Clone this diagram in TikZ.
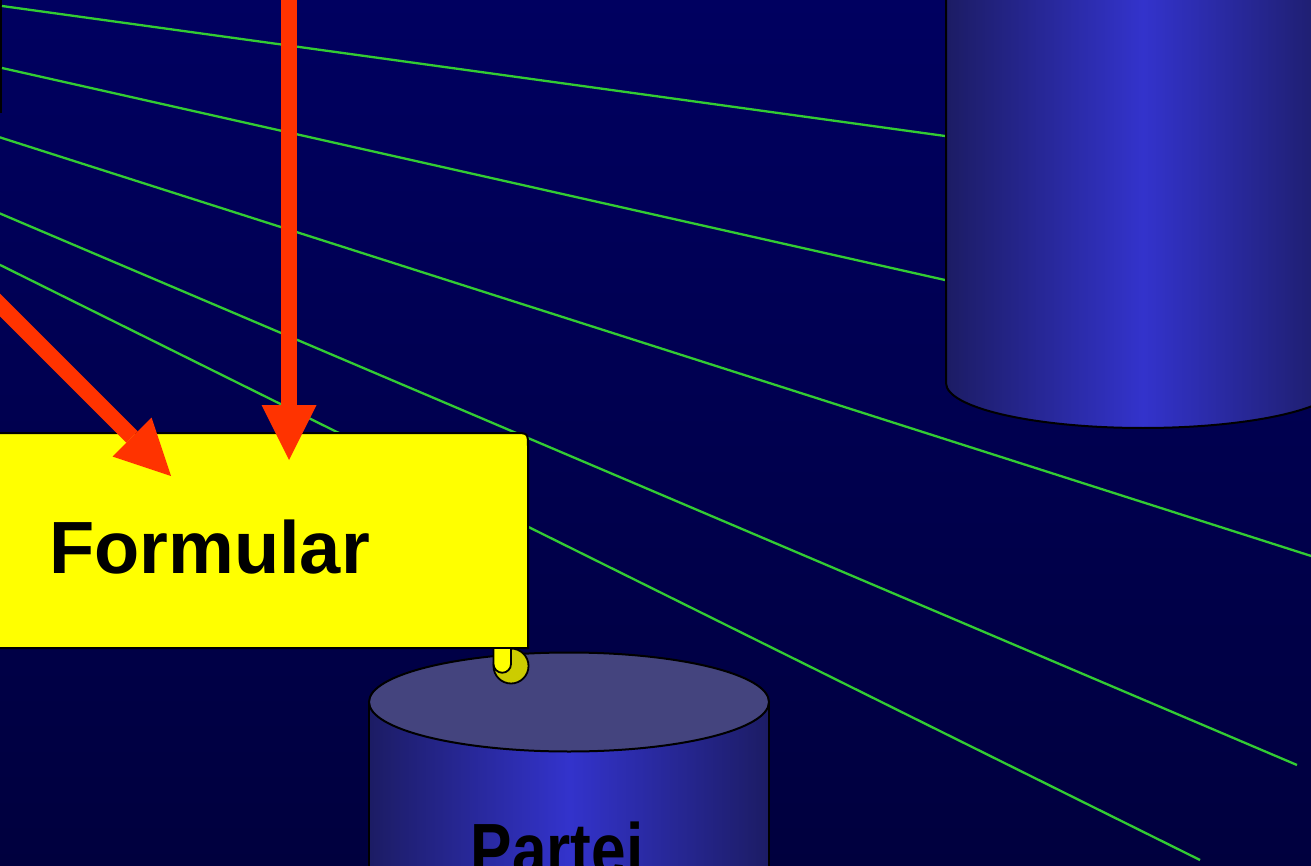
\documentclass[tikz,border=0pt]{standalone}
\usepackage{fontspec}
\setmainfont{Liberation Sans}
\usetikzlibrary{arrows.meta}
\definecolor{slidebg}{RGB}{0,0,96}
\definecolor{slidebgdark}{RGB}{0,0,62}
\definecolor{wiregreen}{RGB}{51,204,51}
\definecolor{flowred}{RGB}{255,51,0}
\definecolor{cyldark}{RGB}{28,28,100}
\definecolor{cylbright}{RGB}{51,51,204}
\definecolor{cyltop}{RGB}{68,68,126}
\definecolor{scrollyellow}{RGB}{255,255,0}
\definecolor{scrolldark}{RGB}{204,204,0}

\begin{document}
\begin{tikzpicture}[x=1pt, y=-1pt,
  wire/.style={wiregreen, line width=2.3pt},
  flow/.style={flowred, line width=16pt, -{Triangle[length=55pt, width=55pt, line width=0pt]}},
  cylbody/.style={left color=cyldark, right color=cyldark, middle color=cylbright, draw=black, line width=2pt},
  bigtext/.style={font=\bfseries\fontsize{74}{80}\selectfont, text=black, inner sep=0pt}]
  \useasboundingbox (0,0) rectangle (1311,866);
  \clip (0,0) rectangle (1311,866);
  \shade[top color=slidebg, bottom color=slidebgdark] (0,0) rectangle (1311,866);
  \draw[black, line width=2.4pt] (-40,-10) -- (-40,112) -- (1,112) -- (1,-10);
  % lines to the stores
  \draw[wire] (2,6) -- (945,136);
  \draw[wire] (2,68) -- (945,280);
  \draw[wire] (-20,131) -- (1330,562);
  \draw[wire] (-20,205) -- (1297,765);
  \draw[wire] (-20,255) -- (1200,860);
  % stores
  \draw[cylbody] (946,-10) -- (946,383) arc[start angle=180, end angle=0, x radius=197, y radius=45] -- (1340,-10) -- cycle;
  \draw[cylbody] (369,702) -- (369,900) -- (769,900) -- (769,702) -- cycle;
  \draw[fill=cyltop, line width=2pt] (569,702) ellipse [x radius=200, y radius=49.5];
  \node[bigtext, anchor=base] (partei) at (557,875) {\scalebox{0.84}[1]{Partei}};
  % form
  \draw[fill=scrollyellow, line width=2pt] (-20,433) -- (514,433) .. controls (528,433) .. (528,447) -- (528,648) -- (-20,648) -- cycle;
  \draw[fill=scrolldark, line width=1.8pt] (511,666) circle (17.5);
  \draw[fill=scrollyellow, line width=1.8pt] (493.5,648) -- (511,648) -- (511,664) arc[start angle=0, end angle=180, radius=8.75] -- cycle;
  \node[bigtext, anchor=base west] (formular) at (49,573) {Formular};
  % data flow
  \coordinate (diagsrc) at (-40,265);
  \coordinate (diagtip) at (171,476);
  \coordinate (vertsrc) at (289,-20);
  \coordinate (verttip) at (289,460);
  \draw[flow] (diagsrc) -- (diagtip);
  \draw[flow] (vertsrc) -- (verttip);
\end{tikzpicture}
\end{document}
